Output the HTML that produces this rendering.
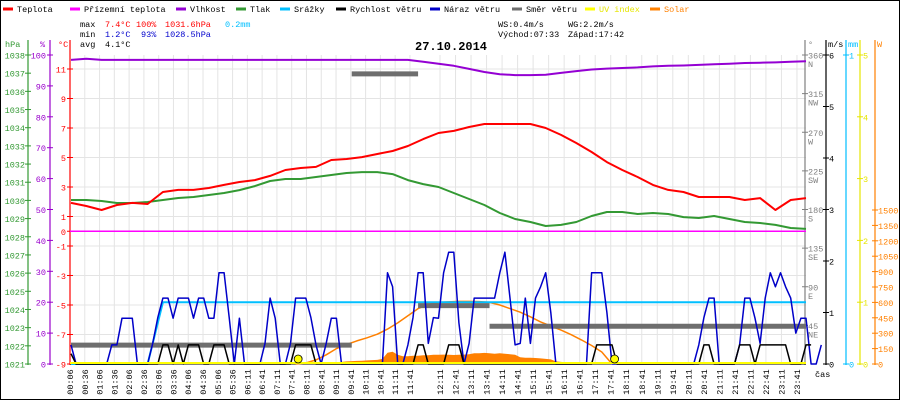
<!DOCTYPE html>
<html><head><meta charset="utf-8">
<style>
html,body{margin:0;padding:0;background:#fff;}
svg{display:block;font-family:"Liberation Mono",monospace;font-size:8.5px;}
</style></head>
<body>
<svg id="chart" width="900" height="400" viewBox="0 0 900 400">
<rect x="0.5" y="0.5" width="899" height="399" fill="#fff" stroke="#000"/>
<g id="legend"></g>
<g>
<text x="80" y="27" fill="#000">max</text>
<text x="105" y="27" fill="#f00">7.4°C</text>
<text x="136" y="27" fill="#f00">100%</text>
<text x="165" y="27" fill="#f00">1031.6hPa</text>
<text x="225" y="27" fill="#00bfff">0.2mm</text>
<text x="80" y="37" fill="#000">min</text>
<text x="105" y="37" fill="#00c">1.2°C</text>
<text x="141" y="37" fill="#00c">93%</text>
<text x="165" y="37" fill="#00c">1028.5hPa</text>
<text x="80" y="47" fill="#000">avg</text>
<text x="105" y="47" fill="#000">4.1°C</text>
<text x="498" y="27" fill="#000">WS:0.4m/s</text>
<text x="568" y="27" fill="#000">WG:2.2m/s</text>
<text x="498" y="37" fill="#000">Východ:07:33</text>
<text x="568" y="37" fill="#000">Západ:17:42</text>
<text x="415" y="50" fill="#000" font-weight="bold" font-size="12">27.10.2014</text>
</g>
<g id="grid"></g>
<g id="axes"></g>
<g id="series"></g>
</svg>
<script>
// ---- data ----
const xLabels = ["00:06","00:36","01:06","01:36","02:06","02:36","03:06","03:36","04:06","04:36","05:06","05:36","06:11","06:41","07:11","07:41","08:11","08:41","09:11","09:41","10:11","10:41","11:11","11:41","12:11","12:41","13:11","13:41","14:11","14:41","15:11","15:41","16:11","16:41","17:11","17:41","18:11","18:41","19:11","19:41","20:11","20:41","21:11","21:41","22:11","22:41","23:11","23:41"];
const temperature = [1.92,1.71,1.44,1.78,1.92,1.85,2.66,2.80,2.80,2.93,3.14,3.34,3.47,3.75,4.15,4.29,4.36,4.83,4.90,5.03,5.24,5.44,5.78,6.25,6.66,6.80,7.07,7.27,7.27,7.27,7.27,7.00,6.53,5.98,5.37,4.69,4.15,3.68,3.14,2.80,2.66,2.32,2.32,2.32,2.12,2.25,1.44,2.12,2.25];
const pressure = [1030.02,1030.02,1029.97,1029.86,1029.86,1029.91,1030.02,1030.13,1030.19,1030.30,1030.41,1030.57,1030.79,1031.07,1031.18,1031.18,1031.29,1031.40,1031.51,1031.56,1031.56,1031.45,1031.12,1030.90,1030.74,1030.41,1030.08,1029.75,1029.31,1028.98,1028.81,1028.59,1028.65,1028.81,1029.14,1029.36,1029.36,1029.25,1029.31,1029.25,1029.08,1029.03,1029.14,1028.98,1028.81,1028.76,1028.65,1028.48,1028.43];
const humidity = [98.4,98.8,98.4,98.4,98.4,98.4,98.4,98.4,98.4,98.4,98.4,98.4,98.4,98.4,98.4,98.4,98.4,98.4,98.4,98.4,98.4,98.4,98.4,97.8,97.2,96.5,95.5,94.5,93.8,93.5,93.5,93.6,94.2,94.8,95.3,95.6,95.8,96.0,96.3,96.5,96.6,96.8,97.0,97.2,97.4,97.5,97.6,97.8,98.0];
const rain = [0,0,0,0,0,0,0.2,0.2,0.2,0.2,0.2,0.2,0.2,0.2,0.2,0.2,0.2,0.2,0.2,0.2,0.2,0.2,0.2,0.2,0.2,0.2,0.2,0.2,0.2,0.2,0.2,0.2,0.2,0.2,0.2,0.2,0.2,0.2,0.2,0.2,0.2,0.2,0.2,0.2,0.2,0.2,0.2,0.2,0.2];
const gust = [0.37,0,0,0,0,0,0,0,0.37,0.37,0.89,0.89,0.89,0,0,0,0.4,0.9,1.28,1.28,0.89,1.28,1.28,1.28,0.89,1.28,1.28,0.89,0.89,1.77,1.77,0.9,0,0.89,0,0,0,0,0.4,1.28,0.89,0,0,0.4,1.28,1.28,1.28,0.9,0.37,0,0.4,0.89,0.89,0,0,0,0,0,0,0,0,0,1.77,1.5,0,0,0.37,0.9,1.77,1.77,0.4,0.9,0.89,1.77,2.17,2.17,0.8,0,0.4,1.28,1.28,1.28,1.28,1.28,1.77,2.17,1.28,0.37,0.4,1.28,0.4,1.28,1.5,1.77,1.0,0,0,0,0,0,0,0,1.77,1.77,1.77,1.0,0,0,0,0,0,0,0,0,0,0,0,0,0,0,0,0,0,0.37,0.9,1.28,1.28,0,0,0,0,0.37,1.28,1.28,0.89,0.4,1.28,1.77,1.5,1.77,1.5,1.28,0.6,0.89,0.89,0,0,0.37];
const windSpeed = [0.2,0,0,0,0,0,0,0,0,0,0,0,0,0,0,0,0,0,0.37,0.37,0,0.37,0,0.37,0.37,0.37,0,0,0.37,0.37,0.37,0,0,0,0,0,0,0,0,0,0,0,0,0,0.37,0.37,0.37,0.37,0,0,0,0,0,0,0,0,0,0,0,0,0,0,0,0,0,0,0,0,0.37,0.37,0,0,0,0,0.37,0.37,0.37,0,0,0,0,0,0,0,0,0,0,0,0,0,0,0,0,0,0,0,0,0,0,0,0,0,0,0.37,0.37,0.37,0.37,0,0,0,0,0,0,0,0,0,0,0,0,0,0,0,0,0,0.37,0.37,0,0,0,0,0,0.37,0.37,0.37,0,0.37,0.37,0.37,0.37,0.37,0.37,0,0,0,0.37,0.37];
const windDirStart = [0,55,68,82];
const windDirEnd = [55,68,82,144];
const windDirDeg = [22,338,68,44];
const solarStart = 49;
const solarMeasured = [5,8,12,15,20,25,28,30,32,35,38,40,50,110,120,90,75,75,80,80,85,85,90,90,92,90,88,90,92,95,105,105,108,105,100,105,100,95,90,65,60,60,58,55,50,45,25,20,18,15,12,8,5,0];
const solarCurveStart = 44;
const solarCurve = [0,10,40,90,150,190,225,255,290,340,400,470,540,580,600,605,610,610,608,600,575,540,505,460,410,370,330,285,235,180,117,0];
const sunTimes = [44.5,106.5];
const tempTicks = [11,9,7,5,3,1,0,-1,-3,-5,-7,-9];
const pressTicks = [1038,1037,1036,1035,1034,1033,1032,1031,1030,1029,1028,1027,1026,1025,1024,1023,1022,1021];
const humTicks = [100,90,80,70,60,50,40,30,20,10,0];
const dirTicks = [360,315,270,225,180,135,90,45];
const dirNames = ["N","NW","W","SW","S","SE","E","NE"];
const msTicks = [0,1,2,3,4,5,6];
const mmTicks = [0,1];
const uvTicks = [0,1,2,3,4,5];
const wTicks = [0,150,300,450,600,750,900,1050,1200,1350,1500];

// ---- scales ----
const X0=71, X1=806, TOP=55, BOT=364;
const xHalf = j => X0 + j*(X1-X0)/48;
const xStep = i => X0 + i*(X1-X0)/144;
const xTick = i => i<24 ? 70 + i*14.78 : 440 + (i-24)*15.52;
const yT = v => 364 - (v+9)*14.75;
const yP = v => 55 + (1038-v)*309/17;
const yH = v => 55 + (100-v)*3.09;
const yDir = v => 364 - v*309/360;
const yMs = v => 364 - v*51.5;
const yMm = v => 364 - v*309;
const yUv = v => 364 - v*61.8;
const yW = v => 364 - v*154/1500;

const NS="http://www.w3.org/2000/svg";
function mk(parent, tag, attrs, text){
  const e=document.createElementNS(NS,tag);
  for(const k in attrs) e.setAttribute(k,attrs[k]);
  if(text!==undefined) e.textContent=text;
  parent.appendChild(e); return e;
}
const G=id=>document.getElementById(id);

// legend
const legendNames=["Teplota","Přízemní teplota","Vlhkost","Tlak","Srážky","Rychlost větru","Náraz větru","Směr větru","UV index","Solar"];
const legendColors=["#f00","#f0f","#9400d3","#339933","#00bfff","#000","#0000c8","#6e6e6e","#ffff00","#ff8000"];
const legendX=[3,70,176,236,280,336,430,512,585,650];
legendNames.forEach((n,k)=>{
  const g=mk(G('legend'),'g',{});
  
  
  mk(g,'line',{x1:legendX[k],x2:legendX[k]+10,y1:9,y2:9,stroke:legendColors[k],'stroke-width':3});
  mk(g,'text',{x:legendX[k]+14,y:12,fill:legendColors[k]==='#ffff00'?'#e6e600':(legendColors[k]==='#ff8000'?'#ff8000':'#000')},n);
});

// grid
const grid=G('grid');
xLabels.forEach((l,i)=>{
  const ln=mk(grid,'line',{x1:xTick(i),x2:xTick(i),y1:TOP,y2:BOT,stroke:'#e4e4e4'});
  
  
});
tempTicks.forEach(v=>{
  if(v===0) return;
  const ln=mk(grid,'line',{x1:X0,x2:X1,y1:yT(v),y2:yT(v),stroke:'#e4e4e4'});
  
  
});

// axes
const ax=G('axes');
function axis(name,x,y1,y2,color,ticks,scale,labelX,anchor){
  const g=mk(ax,'g',{});
  
  
  mk(g,'line',{x1:x,x2:x,y1:y1,y2:y2,stroke:color,'stroke-width':1.2});
  ticks.forEach((v,k)=>{
    const y=scale(v);
    mk(g,'line',{x1:x-3,x2:x+3,y1:y,y2:y,stroke:color});
    const t=mk(g,'text',{x:labelX,y:y+3.5,fill:color,'text-anchor':anchor},String(v));
    
    
  });
  return g;
}
axis('pressure-axis',28,40,365,'#339933',pressTicks,yP,25,'end');
axis('humidity-axis',50,40,365,'#9900cc',humTicks,yH,46,'end');
axis('temperature-axis',70,40,365,'#f00',tempTicks,yT,66,'end');
const dirAx=axis('direction-axis',805,40,365,'#808080',dirTicks,yDir,808,'start');
dirTicks.forEach((v,k)=>{ mk(dirAx,'text',{x:808,y:yDir(v)+12,fill:'#808080'},dirNames[k]); });
axis('wind-speed-axis',826,40,365,'#000',msTicks,yMs,829,'start');
axis('rain-axis',846,40,365,'#00bfff',mmTicks,yMm,849,'start');
axis('uv-axis',860,40,365,'#e6e600',uvTicks,yUv,863,'start');
axis('solar-axis',875,40,365,'#ff8000',wTicks,yW,878,'start');
const units=[["hPa",5,'#339933'],["%",40,'#9900cc'],["°C",58,'#f00'],["°",808,'#808080'],["m/s",828,'#000'],["mm",848,'#00bfff'],["W",877,'#ff8000']];
units.forEach(u=>{
  const t=mk(ax,'text',{x:u[1],y:47,fill:u[2]},u[0]);
  
  
});
const cas=mk(ax,'text',{x:815,y:377,fill:'#000'},'čas');


xLabels.forEach((l,i)=>{
  const x=xTick(i);
  const t=mk(ax,'text',{x:0,y:0,fill:'#000','text-anchor':'middle',transform:`translate(${x+3},382) rotate(-90)`},l);
  
  
});
const bl=mk(ax,'line',{x1:70,x2:806,y1:364,y2:364,stroke:'#000'});



// series
const S=G('series');
function poly(arr,xf,yf,color,w,name){
  const pts=arr.map((v,i)=>xf(i).toFixed(1)+','+yf(v).toFixed(1)).join(' ');
  const p=mk(S,'polyline',{points:pts,fill:'none',stroke:color,'stroke-width':w,'stroke-linejoin':'round'});
  
  
  return p;
}
{
  let pts=[];
  pts.push(xStep(solarStart).toFixed(1)+','+BOT);
  solarMeasured.forEach((v,k)=>{pts.push(xStep(solarStart+k).toFixed(1)+','+yW(v).toFixed(1));});
  pts.push(xStep(solarStart+solarMeasured.length-1).toFixed(1)+','+BOT);
  const a=mk(S,'polygon',{points:pts.join(' '),fill:'#ff8000'});
  
  
}
poly(solarCurve,i=>xStep(solarCurveStart+i*2),yW,'#ff8000',1.5,'solar-theoretical-line');
{
  const z=mk(S,'line',{x1:70,x2:806,y1:yT(0),y2:yT(0),stroke:'#f0f','stroke-width':1.5});
  
  
}
poly(rain,xHalf,yMm,'#00bfff',2,'rain-line');
windDirDeg.forEach((d,k)=>{
  const s=mk(S,'line',{x1:xStep(windDirStart[k]),x2:xStep(windDirEnd[k]),y1:yDir(d),y2:yDir(d),stroke:'#6e6e6e','stroke-width':5});
  
  
});
poly(gust,xStep,yMs,'#0000c8',1.5,'wind-gust-line');
poly(windSpeed,xStep,yMs,'#000',1.5,'wind-speed-line');
poly(pressure,xHalf,yP,'#339933',2,'pressure-line');
poly(humidity,xHalf,yH,'#9400d3',2,'humidity-line');
poly(temperature,xHalf,yT,'#f00',2,'temperature-line');
{
  const u=mk(S,'line',{x1:70,x2:806,y1:363,y2:363,stroke:'#ffff00','stroke-width':2});
  
  
}
sunTimes.forEach(t=>{
  const c=mk(S,'circle',{cx:xStep(t),cy:359,r:4,fill:'#ffff00',stroke:'#000','stroke-width':0.8});
  
  
});
</script>
</body></html>
